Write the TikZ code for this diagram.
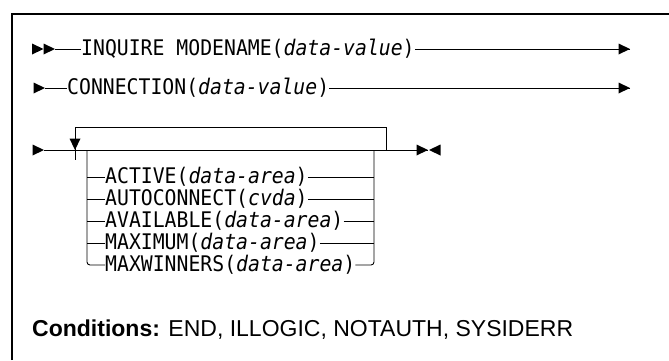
\documentclass[tikz,border=0pt]{standalone}
\usepackage{fontspec}
\setsansfont{Liberation Sans}
\newfontfamily\synfont[FakeStretch=0.92]{DejaVu Sans Mono}
\usetikzlibrary{positioning}

\tikzset{
  syn/.style={font=\synfont\fontsize{21.5}{22}\selectfont, inner sep=0pt, anchor=west},
  rail/.style={line width=0.9pt},
  tri/.pic={\fill (0,0) -- (-11.5,-5.5) -- (-11.5,5.5) -- cycle;},
}

\begin{document}
\begin{tikzpicture}[x=1pt,y=-1pt]
    \useasboundingbox (0,0) rectangle (669,360);

    % frame (top and left only)
    \draw[line width=1.8pt] (12,360) -- (12,14) -- (669,14);

    % first line
    \pic at (43.5,49) {tri};
    \pic at (55,49) {tri};
    \coordinate (s1) at (55,49);
    \node[syn] (inq) at (81,49) {INQUIRE MODENAME(\textit{data-value})};
    \coordinate (e1) at (630,49);
    \draw[rail] (s1) -- (inq.west);
    \draw[rail] (inq.east) -- (e1);
    \pic at (e1) {tri};

    % second line
    \pic at (45,88) {tri};
    \coordinate (s2) at (45,88);
    \node[syn] (conn) at (67,88) {CONNECTION(\textit{data-value})};
    \coordinate (e2) at (630,88);
    \draw[rail] (s2) -- (conn.west);
    \draw[rail] (conn.east) -- (e2);
    \pic at (e2) {tri};

    % third line with repeat loop
    \pic at (44,150) {tri};
    \coordinate (s3) at (44,150);
    \coordinate (e3) at (428,150);
    \coordinate (bl) at (87,150);
    \coordinate (br) at (374,150);
    \coordinate (lpl) at (75,150);
    \coordinate (lpr) at (386,150);
    \draw[rail] (s3) -- (e3);
    \draw[rail] (lpr) -- ++(0,-23) -| ([yshift=-10pt]lpl);
    \pic[rotate=-90] at (lpl) {tri};
    \pic at (e3) {tri};
    \pic[xscale=-1] at ([xshift=1pt]e3) {tri};

    % options
    \node[syn] (act) at (105,177) {ACTIVE(\textit{data-area})};
    \node[syn] (auto) at (105,199) {AUTOCONNECT(\textit{cvda})};
    \node[syn] (avail) at (105,221) {AVAILABLE(\textit{data-area})};
    \node[syn] (maxi) at (105,243) {MAXIMUM(\textit{data-area})};
    \node[syn] (mxw) at (105,265) {MAXWINNERS(\textit{data-area})};
    \foreach \n in {act,auto,avail,maxi} {
        \draw[rail] (\n.west -| bl) -- (\n.west);
        \draw[rail] (\n.east) -- (\n.east -| br);
    }
    \draw[rail,rounded corners=3pt] (bl) |- (mxw.west);
    \draw[rail,rounded corners=3pt] (br) |- (mxw.east);

    % conditions
    \node[anchor=base west, inner sep=0pt, font=\sffamily\fontsize{23}{26}\selectfont] (cond) at (32,336)
        {\textbf{Conditions:} END, ILLOGIC, NOTAUTH, SYSIDERR};
\end{tikzpicture}
\end{document}
